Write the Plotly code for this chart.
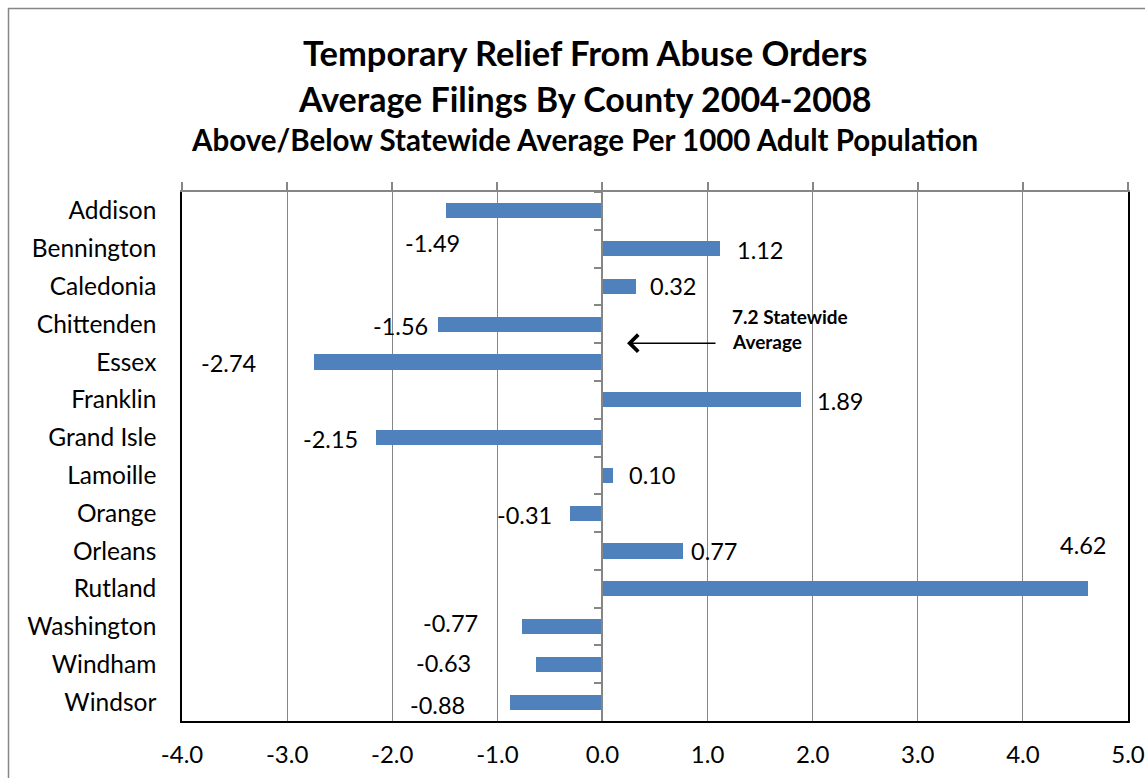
import plotly.graph_objects as go

# County deviations from the statewide average (filings per 1000 adults)
counties = ["Addison", "Bennington", "Caledonia", "Chittenden", "Essex", "Franklin",
            "Grand Isle", "Lamoille", "Orange", "Orleans", "Rutland", "Washington",
            "Windham", "Windsor"]
deviation = [-1.49, 1.12, 0.32, -1.56, -2.74, 1.89, -2.15, 0.10, -0.31, 0.77, 4.62,
             -0.77, -0.63, -0.88]
x_ticks = [-4, -3, -2, -1, 0, 1, 2, 3, 4, 5]
x_tick_labels = [f"{v:.1f}" for v in x_ticks]

# Pixel offsets (right, down) of each value label centre from its bar end
label_offsets = [(-13, 32), (40, 1), (37, 0), (-38, 2), (-86, 1), (39, 1),
                 (-46, 1), (39, 0), (-45, 2), (31, 0), (-5, -44), (-71, -4),
                 (-93, -1), (-72, 3)]

FONT = "Lato"
GRAY = "#868686"
BLUE = "#4F81BD"

W, H = 1145, 778
L, R, T, B = 182, 1128, 192, 721
pw, ph = R - L, B - T


def px_to_paper_x(px):
    return (px - L) / pw


def px_to_paper_y(py):
    return (B - py) / ph


n = len(counties)
yrange = [n - 0.5, -0.5]

fig = go.Figure()
fig.add_trace(go.Bar(
    x=deviation, y=counties, orientation="h", width=0.4,
    marker=dict(color=BLUE, line=dict(width=0)),
    hoverinfo="skip", showlegend=False,
))
# Companion trace that carries the category axis drawn through zero
fig.add_trace(go.Bar(
    x=deviation, y=counties, orientation="h", width=0.4,
    xaxis="x2", yaxis="y2",
    marker=dict(color=BLUE, opacity=0),
    hoverinfo="skip", showlegend=False,
))

annotations = []
for c, v, (dx, dy) in zip(counties, deviation, label_offsets):
    annotations.append(dict(
        x=v, y=c, xref="x", yref="y", text=f"{v:.2f}", showarrow=False,
        xanchor="center", yanchor="middle", xshift=dx, yshift=-dy,
        font=dict(family=FONT, size=23.5, color="black"),
    ))

# Statewide-average callout
arrow_row = (counties.index("Chittenden") + counties.index("Essex")) / 2
annotations.append(dict(
    x=0.234, y=arrow_row, xref="x", yref="y", ax=1.09, ay=arrow_row,
    axref="x", ayref="y", text="", showarrow=True, arrowhead=4,
    arrowsize=2.2, arrowwidth=1.5, arrowcolor="black",
))
annotations.append(dict(
    x=px_to_paper_x(730), y=px_to_paper_y(316), xref="paper", yref="paper",
    text="<b>7.2 Statewide</b>", showarrow=False, xanchor="left", yanchor="middle",
    font=dict(family=FONT, size=19, color="black"),
))
annotations.append(dict(
    x=px_to_paper_x(730), y=px_to_paper_y(341), xref="paper", yref="paper",
    text="<b>Average</b>", showarrow=False, xanchor="left", yanchor="middle",
    font=dict(family=FONT, size=19, color="black"),
))

# Three-line title
title_cx = px_to_paper_x(584.5)
for text, ypx, size in [("Temporary Relief From Abuse Orders", 53, 34.5),
                        ("Average Filings By County 2004-2008", 98, 34),
                        ("Above/Below Statewide Average Per 1000 Adult Population", 140, 29.5)]:
    annotations.append(dict(
        x=title_cx, y=px_to_paper_y(ypx), xref="paper", yref="paper",
        text=f"<b>{text}</b>", showarrow=False, xanchor="center", yanchor="middle",
        font=dict(family=FONT, size=size, color="black"),
    ))

shapes = [
    # chart area border
    dict(type="rect", xref="paper", yref="paper",
         x0=px_to_paper_x(8.5), x1=px_to_paper_x(1200),
         y0=px_to_paper_y(900), y1=px_to_paper_y(8.5),
         line=dict(color=GRAY, width=1.5), layer="below"),
]

fig.update_layout(
    template="none",
    width=W, height=H,
    margin=dict(l=L, r=W - R, t=T, b=H - B, autoexpand=False),
    paper_bgcolor="white", plot_bgcolor="white",
    bargap=0,
    xaxis=dict(
        range=[x_ticks[0], x_ticks[-1]], tickvals=x_ticks, ticktext=x_tick_labels,
        showgrid=True, gridcolor=GRAY, gridwidth=1, zeroline=False,
        showline=True, linecolor="black", linewidth=1.5,
        ticks="", ticklabelstandoff=11, automargin=False,
        tickfont=dict(family=FONT, size=24, color="black"),
        fixedrange=True,
    ),
    xaxis2=dict(
        range=[x_ticks[0], x_ticks[-1]], tickvals=x_ticks, overlaying="x",
        side="top", anchor="y", showgrid=False, zeroline=False,
        showline=True, linecolor=GRAY, linewidth=1.5,
        ticks="outside", ticklen=8, tickcolor=GRAY, tickwidth=1.5,
        showticklabels=False, fixedrange=True, automargin=False,
    ),
    yaxis=dict(
        type="category", categoryorder="array", categoryarray=counties,
        range=yrange, showgrid=False, zeroline=False,
        showline=True, linecolor="black", linewidth=1.5, mirror=True,
        ticks="", ticklabelstandoff=19, automargin=False,
        tickfont=dict(family=FONT, size=24.5, color="black"),
        fixedrange=True,
    ),
    yaxis2=dict(
        type="category", categoryorder="array", categoryarray=counties,
        range=yrange, overlaying="y", anchor="free",
        position=(0 - x_ticks[0]) / (x_ticks[-1] - x_ticks[0]), side="left",
        showgrid=False, zeroline=False,
        showline=True, linecolor=GRAY, linewidth=1.5,
        ticks="outside", tickson="boundaries", ticklen=8, tickcolor=GRAY, tickwidth=1.5,
        showticklabels=False, fixedrange=True, automargin=False,
    ),
    annotations=annotations,
    shapes=shapes,
)

fig.write_html("out.html")
